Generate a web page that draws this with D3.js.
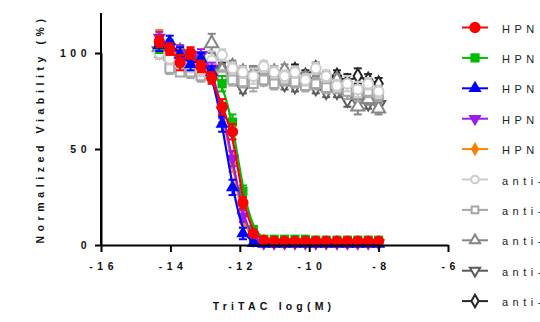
<!DOCTYPE html>
<html>
<head>
<meta charset="utf-8">
<script src="https://cdn.jsdelivr.net/npm/d3@7"></script>
<style>
  body { margin: 0; background: #fff; }
  svg { display: block; font-family: "Liberation Sans", Arial, sans-serif; }
</style>
</head>
<body>
<script>
// log concentrations (2-fold dilutions)
const logConc = [-14.32, -14.02, -13.72, -13.42, -13.12, -12.81, -12.51, -12.21, -11.91, -11.61, -11.31,
  -11.01, -10.71, -10.41, -10.11, -9.81, -9.51, -9.20, -8.90, -8.60, -8.30, -8.00];

const seriesNames = ["HPN", "HPN", "HPN", "HPN", "HPN", "anti-", "anti-", "anti-", "anti-", "anti-"];

const redVals    = [106, 102, 95, 100, 93, 87, 72, 59, 22, 6, 2.5, 2, 2, 2, 2, 2, 2, 2, 2, 2, 2, 2];
const greenVals  = [103, 104, 100, 99, 96, 90, 84, 64, 28, 8, 3, 3, 3, 3, 3, 2.5, 2.5, 2.5, 2.5, 2.5, 2.5, 2.5];
const blueVals   = [104, 106, 99, 94, 97, 90, 63, 30, 6, 1, 0.5, 0.5, 0.5, 0.5, 0.5, 0.5, 0.5, 0.5, 0.5, 0.5, 0.5, 0.5];
const purpleVals = [108, 103, 100, 97, 99, 92, 70, 45, 15, 3, 1, 1, 1, 1, 1, 1, 1, 1, 1, 1, 1, 1];
const orangeVals = [109, 102, 98, 97, 93, 88, 68, 42, 12, 2, 1, 1, 1, 1, 1, 1, 1, 1, 1, 1, 1, 1];
const circVals   = [100, 97, 96, 93, 91, 96, 99, 92, 90, 88, 93, 90, 88, 90, 86, 92, 88, 83, 84, 81, 84, 80];
const squareVals = [100, 92, 90, 90, 88, 89, 88, 86, 85, 84, 86, 84, 86, 85, 83, 84, 82, 82, 80, 79, 80, 78];
const triVals    = [103, 100, 101, 96, 96, 105, 91, 93, 90, 89, 92, 90, 91, 88, 87, 85, 84, 86, 80, 72, 76, 71];
const triDnVals  = [101, 97, 95, 94, 93, 91, 90, 89, 82, 88, 87, 86, 84, 83, 85, 82, 80, 80, 76, 75, 74, 73];
const diamVals   = [104, 99, 96, 95, 94, 92, 92, 92, 90, 89, 88, 90, 89, 91, 88, 92, 87, 88, 85, 88, 86, 84];

const colErr  = [3, 3, 4, 3, 3, 3, 4, 4, 3, 1, 0.5, 0.5, 0.5, 0.5, 0.5, 0.5, 0.5, 0.5, 0.5, 0.5, 0.5, 0.5];
const grayErr = [3, 3, 2, 3, 3, 5, 3, 3, 3, 4, 3, 3, 3, 3, 3, 3, 3, 3, 4, 4, 3, 3];

const xTicks = [-16, -14, -12, -10, -8, -6];
const yTicks = [0, 50, 100];

const series = [
  { vals: redVals,    err: colErr,  color: "#ff0000", shape: d3.symbolCircle,   size: 100, fill: true },
  { vals: greenVals,  err: colErr,  color: "#00bb00", shape: d3.symbolSquare,   size: 85, fill: true },
  { vals: blueVals,   err: colErr,  color: "#0000ff", shape: d3.symbolTriangle, size: 75, fill: true },
  { vals: purpleVals, err: colErr,  color: "#9a1ee6", shape: d3.symbolTriangle, size: 75, fill: true, down: true },
  { vals: orangeVals, err: colErr,  color: "#ff8000", shape: d3.symbolDiamond,  size: 60, fill: true },
  { vals: circVals,   err: grayErr, color: "#cccccc", shape: d3.symbolCircle,   size: 75, fill: false },
  { vals: squareVals, err: grayErr, color: "#a6a6a6", shape: d3.symbolSquare,   size: 75, fill: false },
  { vals: triVals,    err: grayErr, color: "#858585", shape: d3.symbolTriangle, size: 75, fill: false },
  { vals: triDnVals,  err: grayErr, color: "#5a5a5a", shape: d3.symbolTriangle, size: 75, fill: false, down: true },
  { vals: diamVals,   err: grayErr, color: "#262626", shape: d3.symbolDiamond,  size: 60, fill: false }
];

const W = 540, H = 322;
const svg = d3.select("body").append("svg").attr("width", W).attr("height", H);

const x = d3.scaleLinear().domain([-16, -6]).range([101, 448]);
const y = d3.scaleLinear().domain([0, 100]).range([245, 53]);

// draw gray groups first, colored on top
const order = [9, 8, 7, 6, 5, 1, 4, 3, 2, 0];

order.forEach(k => {
  const s = series[k];
  const g = svg.append("g");
  g.append("path")
    .attr("d", d3.line().x((d, i) => x(logConc[i])).y(d => y(d)).curve(d3.curveBasis)(s.vals))
    .attr("fill", "none").attr("stroke", s.color).attr("stroke-width", 2.2);
  // error bars
  s.vals.forEach((v, i) => {
    const cx = x(logConc[i]), e = s.err[i];
    if (e < 1) return;
    g.append("line").attr("x1", cx).attr("x2", cx).attr("y1", y(v - e)).attr("y2", y(v + e))
      .attr("stroke", s.color).attr("stroke-width", 2);
    [v - e, v + e].forEach(b => {
      g.append("line").attr("x1", cx - 4).attr("x2", cx + 4).attr("y1", y(b)).attr("y2", y(b))
        .attr("stroke", s.color).attr("stroke-width", 2);
    });
  });
  g.selectAll("path.m").data(s.vals).enter().append("path").attr("class", "m")
    .attr("d", d3.symbol().type(s.shape).size(s.size))
    .attr("transform", (d, i) => `translate(${x(logConc[i])},${y(d)})` + (s.down ? " rotate(180)" : ""))
    .attr("fill", s.fill ? s.color : "#fff")
    .attr("stroke", s.color).attr("stroke-width", s.fill ? 0 : 2);
});

// axes
const xAxis = svg.append("g").attr("transform", "translate(0,245)")
  .call(d3.axisBottom(x).tickValues(xTicks).tickSize(7).tickSizeOuter(0).tickPadding(11).tickFormat(d3.format("d")));
const yAxis = svg.append("g").attr("transform", "translate(101,0)")
  .call(d3.axisLeft(y).tickValues(yTicks).tickSize(6).tickSizeOuter(0).tickPadding(8));
svg.append("line").attr("x1", 101).attr("x2", 101).attr("y1", 13).attr("y2", 246)
  .attr("stroke", "#000").attr("stroke-width", 2);
[xAxis, yAxis].forEach(a => {
  a.select(".domain").attr("stroke-width", 2);
  a.selectAll(".tick line").attr("stroke-width", 2);
  a.selectAll(".tick text").attr("font-size", 10.5).attr("font-weight", "bold").attr("fill", "#111")
    .attr("letter-spacing", "4.5px").attr("font-family", "Liberation Sans, Arial, sans-serif");
});
xAxis.selectAll(".tick text").attr("dx", "2.2px").text(d => d3.format("d")(d).replace("−", "-"));
yAxis.selectAll(".tick text").attr("dx", "4px");

// axis titles
svg.append("text").attr("x", 274).attr("y", 310).attr("text-anchor", "middle")
  .attr("font-size", 10.5).attr("font-weight", "bold").attr("letter-spacing", "4.2px").attr("fill", "#111")
  .text("TriTAC log(M)");
svg.append("text").attr("transform", "translate(44,129) rotate(-90)").attr("text-anchor", "middle")
  .attr("font-size", 10.5).attr("font-weight", "bold").attr("letter-spacing", "4.6px").attr("fill", "#111")
  .text("Normalized Viability (%)");

// legend
series.forEach((s, k) => {
  const ly = 27.5 + k * 30.4;
  const g = svg.append("g").attr("transform", `translate(475,${ly})`);
  g.append("line").attr("x1", -13).attr("x2", 13).attr("stroke", s.color).attr("stroke-width", 2);
  g.append("path").attr("d", d3.symbol().type(s.shape).size(s.fill ? s.size : 45))
    .attr("transform", s.down ? "rotate(180)" : null)
    .attr("fill", s.fill ? s.color : "#fff")
    .attr("stroke", s.color).attr("stroke-width", s.fill ? 0 : 2);
  g.append("text").attr("x", 27).attr("y", 5).attr("font-size", 11).attr("letter-spacing", "4.5px")
    .attr("fill", "#222").text(seriesNames[k]);
});
</script>
</body>
</html>
